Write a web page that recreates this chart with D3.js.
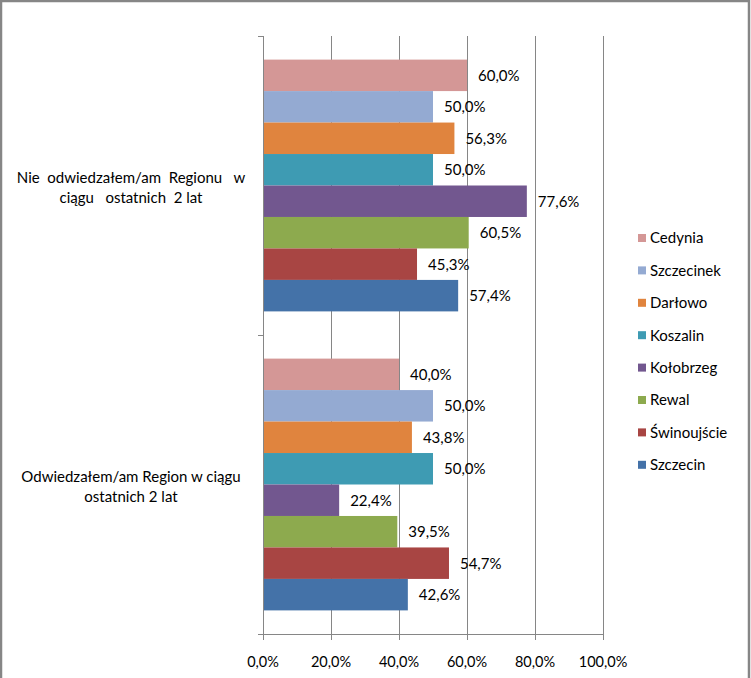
<!DOCTYPE html>
<html><head><meta charset="utf-8">
<script src="https://cdn.jsdelivr.net/npm/d3@7"></script>
<style>body{margin:0;background:#fff}svg{display:block}text{font-family:Lato,"Open Sans","Noto Sans",sans-serif;fill:#000}</style>
</head><body>
<svg id="c" width="751" height="678"></svg>
<script>
const categories = ["Nie  odwiedzałem/am  Regionu   w\nciągu   ostatnich  2 lat", "Odwiedzałem/am Region w ciągu\nostatnich 2 lat"];
const series = ["Cedynia","Szczecinek","Darłowo","Koszalin","Kołobrzeg","Rewal","Świnoujście","Szczecin"];
const colors = ["#D49796","#94AAD2","#E0843E","#3E9BB3","#72578F","#8DAA4E","#A84543","#4472A8"];
const valuesNie = [60.0, 50.0, 56.3, 50.0, 77.6, 60.5, 45.3, 57.4];
const valuesOdw = [40.0, 50.0, 43.8, 50.0, 22.4, 39.5, 54.7, 42.6];
const xTicks = [0, 20, 40, 60, 80, 100];
const values = [valuesNie, valuesOdw];

const svg = d3.select("#c");
const fmt = v => v.toFixed(1).replace(".", ",") + "%";
const x = d3.scaleLinear().domain([0, 100]).range([263, 603]);
const y0 = d3.scaleBand().domain(d3.range(categories.length)).range([36, 634]);
const y1 = d3.scaleBand().domain(series).range([0, y0.bandwidth()]).paddingInner(0).paddingOuter(0.75);

svg.append("rect").attr("x", 1).attr("y", 1).attr("width", 748).attr("height", 700)
  .attr("fill", "none").attr("stroke", "#868686").attr("stroke-width", 2.5);

// gridlines
svg.append("g").selectAll("line").data(xTicks.slice(1)).join("line")
  .attr("x1", d => x(d) + 0.5).attr("x2", d => x(d) + 0.5)
  .attr("y1", 36).attr("y2", 634).attr("stroke", "#868686").attr("stroke-width", 1);

// bars
categories.forEach((c, ci) => {
  const g = svg.append("g").attr("transform", `translate(0,${y0(ci)})`);
  g.selectAll("rect").data(series).join("rect")
    .attr("x", x(0)).attr("y", s => y1(s))
    .attr("width", (s, i) => x(values[ci][i]) - x(0))
    .attr("height", y1.bandwidth())
    .attr("fill", (s, i) => colors[i]);
  g.selectAll("text").data(series).join("text")
    .attr("x", (s, i) => x(values[ci][i]) + 11)
    .attr("y", s => y1(s) + y1.bandwidth() / 2)
    .attr("dy", "0.36em").attr("font-size", 15)
    .text((s, i) => fmt(values[ci][i]));
});

// y axis
svg.append("line").attr("x1", 263.5).attr("x2", 263.5).attr("y1", 36).attr("y2", 634).attr("stroke", "#868686");
[36, 335, 634].forEach(v => svg.append("line").attr("x1", 258).attr("x2", 263).attr("y1", v + 0.5).attr("y2", v + 0.5).attr("stroke", "#868686"));
// x axis
svg.append("line").attr("x1", 258).attr("x2", 603).attr("y1", 634.5).attr("y2", 634.5).attr("stroke", "#868686");
svg.append("g").selectAll("line").data(xTicks).join("line")
  .attr("x1", d => x(d) + 0.5).attr("x2", d => x(d) + 0.5).attr("y1", 634).attr("y2", 640).attr("stroke", "#868686");
svg.append("g").selectAll("text").data(xTicks).join("text")
  .attr("x", d => x(d)).attr("y", 667).attr("text-anchor", "middle").attr("font-size", 14.5)
  .text(d => d.toFixed(1).replace(".", ",") + "%");

// category labels
categories.forEach((c, ci) => {
  const lines = c.split("\n");
  const cy = y0(ci) + y0.bandwidth() / 2;
  const t = svg.append("text").attr("text-anchor", "middle").attr("font-size", 15)
    .attr("xml:space", "preserve").style("white-space", "pre");
  lines.forEach((l, li) => {
    t.append("tspan").attr("x", 131).attr("y", cy + 2 + (li - (lines.length - 1) / 2) * 20).attr("dy", "0.36em").text(l);
  });
});

// legend
const lg = svg.append("g");
series.forEach((s, i) => {
  const yy = 238 + i * 32.4;
  lg.append("rect").attr("x", 638).attr("y", yy - 4).attr("width", 8).attr("height", 8).attr("fill", colors[i]);
  lg.append("text").attr("x", 650).attr("y", yy).attr("dy", "0.36em").attr("font-size", 15).text(s);
});
</script>
</body></html>
